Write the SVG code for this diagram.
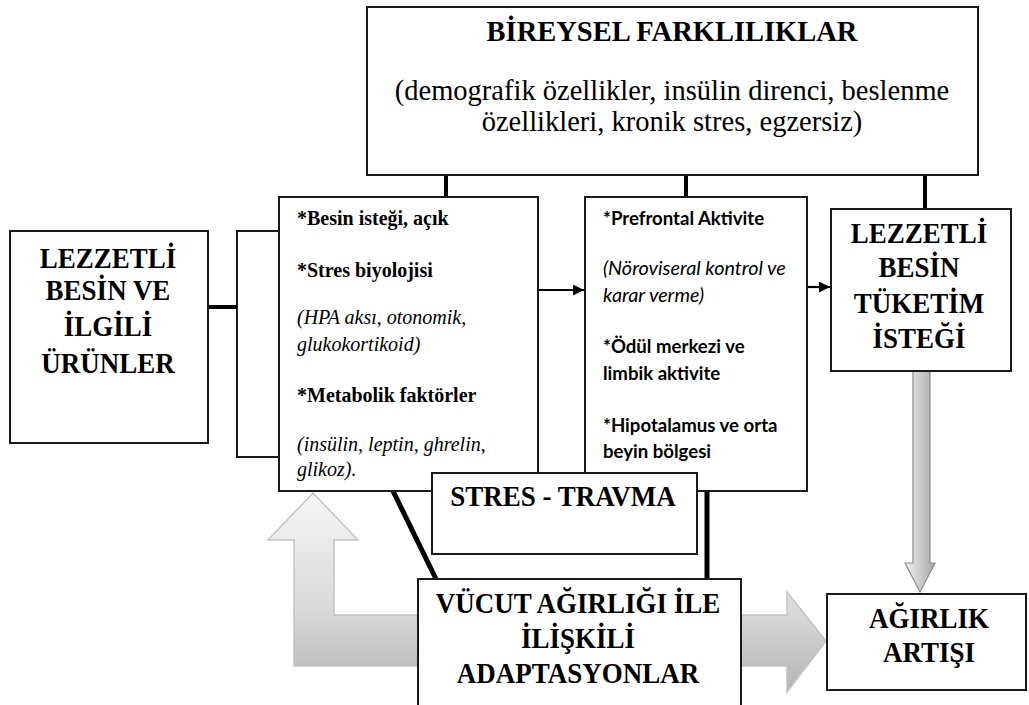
<svg xmlns="http://www.w3.org/2000/svg" width="1029" height="705" viewBox="0 0 1029 705">
<style>
.box{fill:#fff;stroke:#1a1a1a;stroke-width:2}
.brk{fill:none;stroke:#1a1a1a;stroke-width:2}
.thick{stroke:#000;stroke-width:4;fill:none}
.thicker{stroke:#000;stroke-width:5;fill:none}
.arr{stroke:#000;stroke-width:2.2;fill:none}
.h{font-family:"Liberation Serif","Times New Roman",serif;font-weight:bold;font-size:27px;fill:#000;text-anchor:middle}
.ht{font-family:"Liberation Serif","Times New Roman",serif;font-weight:bold;font-size:28.5px;fill:#000;text-anchor:middle}
.sub{font-family:"Liberation Serif","Times New Roman",serif;font-size:28.5px;fill:#000;text-anchor:middle}
.sb{font-family:"Liberation Serif","Times New Roman",serif;font-weight:bold;font-size:20px;fill:#000}
.si{font-family:"Liberation Serif","Times New Roman",serif;font-style:italic;font-size:20px;fill:#000}
.cb{font-family:Lato,"Liberation Sans",sans-serif;font-weight:bold;font-size:18.6px;fill:#000}
.ci{font-family:Lato,"Liberation Sans",sans-serif;font-style:italic;font-size:19.8px;fill:#000}
</style>
<defs>
<marker id="ah" viewBox="0 0 10 10" refX="10" refY="5" markerWidth="5" markerHeight="5" orient="auto" markerUnits="strokeWidth">
<path d="M0,0 L10,5 L0,10 z" fill="#000"/>
</marker>
<linearGradient id="gL" gradientUnits="userSpaceOnUse" x1="0" y1="493" x2="0" y2="692">
<stop offset="0" stop-color="#f6f6f6"/>
<stop offset="0.6" stop-color="#d8d8d8"/>
<stop offset="1" stop-color="#b4b4b4"/>
</linearGradient>
<linearGradient id="gD" gradientUnits="userSpaceOnUse" x1="905" y1="0" x2="935" y2="0">
<stop offset="0" stop-color="#f0f0f0"/>
<stop offset="1" stop-color="#a8a8a8"/>
</linearGradient>
</defs>
<rect width="1029" height="705" fill="#fff"/>

<g id="connectors">
<path id="loop-arrow" d="M313,493 L358,540 L334,540 L334,615 L787,615 L787,592 L826,641 L787,692 L787,666 L294,666 L294,540 L268,540 Z" fill="url(#gL)" stroke="#c4c4c4" stroke-width="1.5"/>
<path id="down-arrow" d="M913,371 L930,371 L930,563 L935,563 L920,592 L905,563 L913,563 Z" fill="url(#gD)" stroke="#8c8c8c" stroke-width="1.2"/>
<rect class="brk" x="237" y="231" width="70" height="226"/>
<line class="thick" x1="208" y1="307" x2="237" y2="307"/>
<line class="thick" x1="446" y1="175" x2="446" y2="197"/>
<line class="thick" x1="686" y1="175" x2="686" y2="197"/>
<line class="thick" x1="925" y1="175" x2="925" y2="209"/>
<line class="arr" x1="538" y1="290" x2="584" y2="290" marker-end="url(#ah)"/>
<line class="arr" x1="807" y1="287" x2="830" y2="287" marker-end="url(#ah)"/>
<line class="thicker" x1="393" y1="491" x2="436" y2="579"/>
<line class="thicker" x1="707" y1="491" x2="707" y2="579"/>
</g>

<g id="node-bireysel">
<rect class="box" x="367" y="7" width="611" height="168"/>
<text class="ht" x="672" y="41">BİREYSEL FARKLILIKLAR</text>
<text class="sub" x="672" y="100">(demografik özellikler, insülin direnci, beslenme</text>
<text class="sub" x="672" y="131">özellikleri, kronik stres, egzersiz)</text>
</g>

<g id="node-lezzetli-besin">
<rect class="box" x="10" y="231" width="198" height="212"/>
<text class="h" x="108" y="268" transform="matrix(1 0 0 1.12 0 -32.16)">LEZZETLİ</text>
<text class="h" x="108" y="300" transform="matrix(1 0 0 1.12 0 -36)">BESİN VE</text>
<text class="h" x="108" y="336" transform="matrix(1 0 0 1.12 0 -40.32)">İLGİLİ</text>
<text class="h" x="108" y="373" transform="matrix(1 0 0 1.12 0 -44.76)">ÜRÜNLER</text>
</g>

<g id="node-besin-istegi">
<rect class="box" x="279" y="197" width="259" height="294"/>
<text class="sb" x="297" y="225">*Besin isteği, açık</text>
<text class="sb" x="297" y="277">*Stres biyolojisi</text>
<text class="si" x="297" y="324">(HPA aksı, otonomik,</text>
<text class="si" x="297" y="351">glukokortikoid)</text>
<text class="sb" x="297" y="402">*Metabolik faktörler</text>
<text class="si" x="297" y="451">(insülin, leptin, ghrelin,</text>
<text class="si" x="297" y="476">glikoz).</text>
</g>

<g id="node-prefrontal">
<rect class="box" x="585" y="197" width="222" height="294"/>
<text class="cb" x="603" y="225">*Prefrontal Aktivite</text>
<text class="ci" x="603" y="275">(Nöroviseral kontrol ve</text>
<text class="ci" x="603" y="302">karar verme)</text>
<text class="cb" x="603" y="353">*Ödül merkezi ve</text>
<text class="cb" x="603" y="380">limbik aktivite</text>
<text class="cb" x="603" y="432">*Hipotalamus ve orta</text>
<text class="cb" x="603" y="458">beyin bölgesi</text>
</g>

<g id="node-tuketim-istegi">
<rect class="box" x="831" y="209" width="180" height="162"/>
<text class="h" x="919" y="243" transform="matrix(1 0 0 1.12 0 -29.16)">LEZZETLİ</text>
<text class="h" x="919" y="277" transform="matrix(1 0 0 1.12 0 -33.24)">BESİN</text>
<text class="h" x="919" y="313" transform="matrix(1 0 0 1.12 0 -37.56)">TÜKETİM</text>
<text class="h" x="919" y="348" transform="matrix(1 0 0 1.12 0 -41.76)">İSTEĞİ</text>
</g>

<g id="node-stres-travma">
<rect class="box" x="432" y="473" width="265" height="81"/>
<text class="h" x="563" y="506" transform="matrix(1 0 0 1.12 0 -60.72)">STRES - TRAVMA</text>
</g>

<g id="node-adaptasyonlar">
<rect class="box" x="418" y="579" width="323" height="135"/>
<text class="h" x="578" y="613" transform="matrix(1 0 0 1.12 0 -73.56)">VÜCUT AĞIRLIĞI İLE</text>
<text class="h" x="578" y="648" transform="matrix(1 0 0 1.12 0 -77.76)">İLİŞKİLİ</text>
<text class="h" x="578" y="683" transform="matrix(1 0 0 1.12 0 -81.96)">ADAPTASYONLAR</text>
</g>

<g id="node-agirlik-artisi">
<rect class="box" x="827" y="594" width="199" height="96"/>
<text class="h" x="929" y="628" transform="matrix(1 0 0 1.12 0 -75.36)">AĞIRLIK</text>
<text class="h" x="929" y="662" transform="matrix(1 0 0 1.12 0 -79.44)">ARTIŞI</text>
</g>
</svg>
